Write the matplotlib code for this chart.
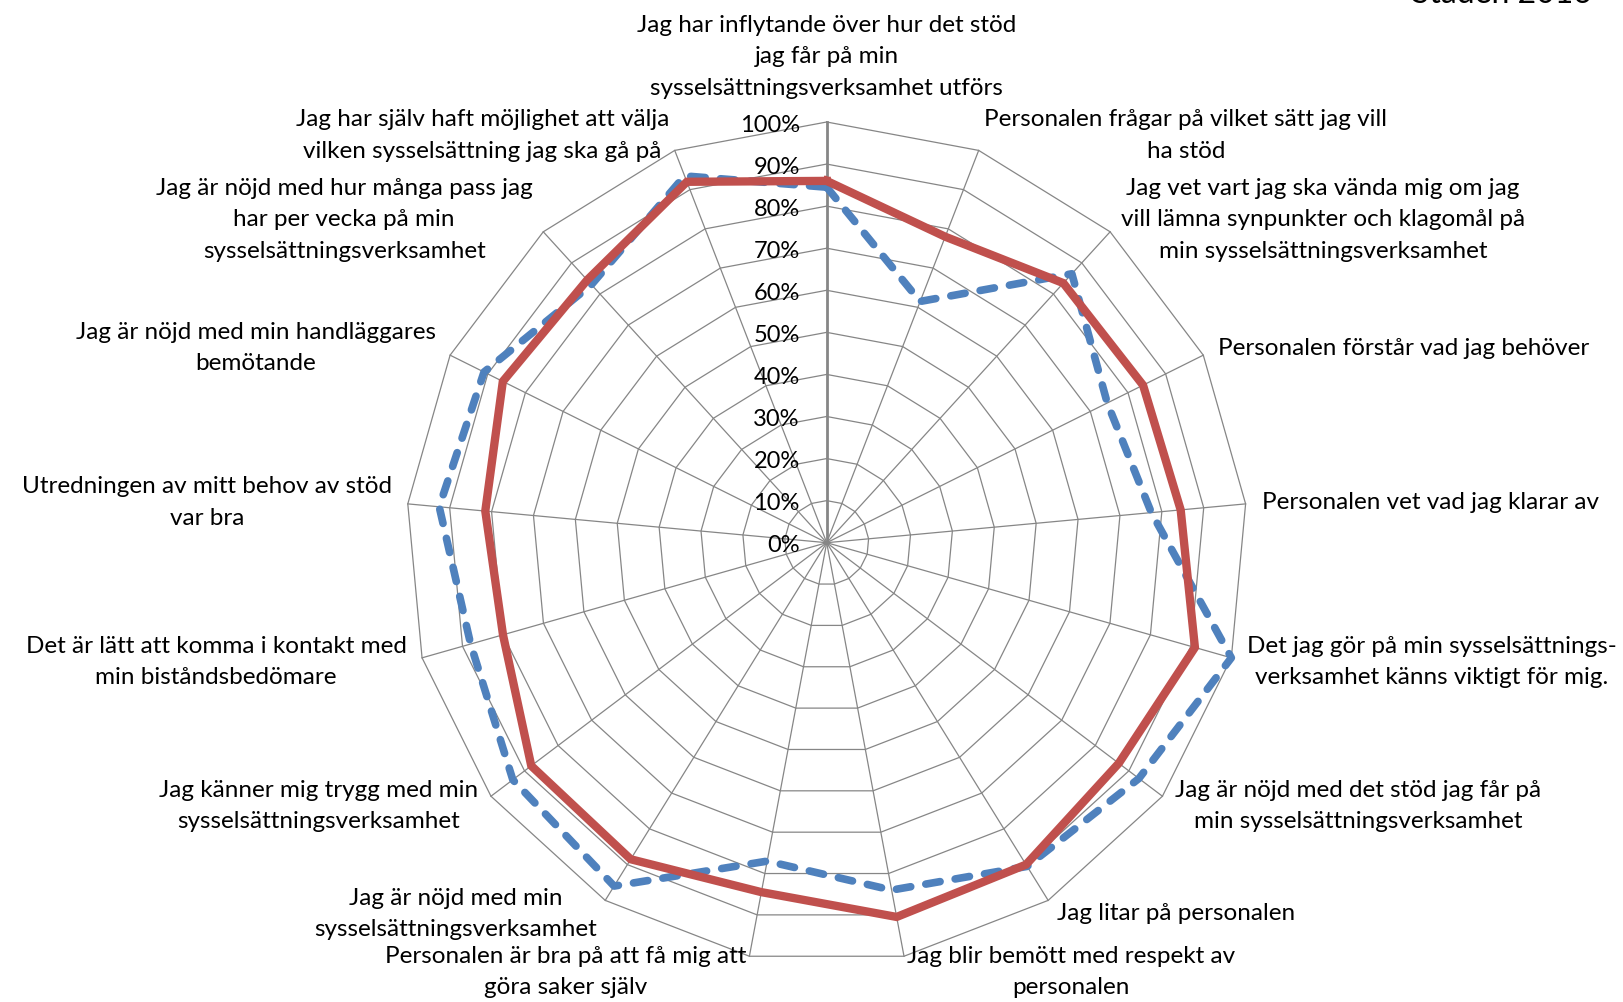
import matplotlib.pyplot as plt
import numpy as np

# --- data (share of positive answers) ---
categories = [
    "Jag har inflytande över hur det stöd\njag får på min\nsysselsättningsverksamhet utförs",
    "Personalen frågar på vilket sätt jag vill\nha stöd",
    "Jag vet vart jag ska vända mig om jag\nvill lämna synpunkter och klagomål på\nmin sysselsättningsverksamhet",
    "Personalen förstår vad jag behöver",
    "Personalen vet vad jag klarar av",
    "Det jag gör på min sysselsättnings-\nverksamhet känns viktigt för mig.",
    "Jag är nöjd med det stöd jag får på\nmin sysselsättningsverksamhet",
    "Jag litar på personalen",
    "Jag blir bemött med respekt av\npersonalen",
    "Personalen är bra på att få mig att\ngöra saker själv",
    "Jag är nöjd med min\nsysselsättningsverksamhet",
    "Jag känner mig trygg med min\nsysselsättningsverksamhet",
    "Det är lätt att komma i kontakt med\nmin biståndsbedömare",
    "Utredningen av mitt behov av stöd\nvar bra",
    "Jag är nöjd med min handläggares\nbemötande",
    "Jag är nöjd med hur många pass jag\nhar per vecka på min\nsysselsättningsverksamhet",
    "Jag har själv haft möjlighet att välja\nvilken sysselsättning jag ska gå på",
]
red_values = [0.86, 0.78, 0.835, 0.84, 0.845, 0.91, 0.87, 0.90, 0.905, 0.845,
              0.885, 0.88, 0.80, 0.815, 0.86, 0.845, 0.92]
blue_values = [0.845, 0.615, 0.865, 0.745, 0.775, 1.00, 0.93, 0.905, 0.84, 0.77,
               0.96, 0.935, 0.88, 0.925, 0.91, 0.83, 0.935]
ring_levels = [0.1, 0.2, 0.3, 0.4, 0.5, 0.6, 0.7, 0.8, 0.9, 1.0]
tick_levels = [0.0] + ring_levels
title_text = "Staden 2016"

plt.rcParams['font.family'] = ['Lato', 'DejaVu Sans']
label_size = 17.5
label_spacing = 1.62

n = len(categories)
theta = np.arange(n) * 2 * np.pi / n
theta_closed = np.append(theta, theta[0])

fig = plt.figure(figsize=(16.24, 10.02), dpi=100)
cx, cy, rad = 826.7 / 1624, 1 - 542.7 / 1002, 420.7
ax = fig.add_axes([cx - rad / 1624, cy - rad / 1002, 2 * rad / 1624, 2 * rad / 1002],
                  projection='polar')
ax.set_theta_zero_location('N')
ax.set_theta_direction(-1)
ax.set_ylim(0, 1)
ax.grid(False)
ax.spines['polar'].set_visible(False)
ax.set_xticks([])
ax.set_yticks([])

grid_col = '#868686'
# polygon rings
for lvl in ring_levels:
    ax.plot(theta_closed, [lvl] * (n + 1), color=grid_col, lw=0.9, clip_on=False, zorder=1)
# spokes (the first one doubles as the value axis)
for i, t in enumerate(theta):
    ax.plot([t, t], [0, 1], color=grid_col, lw=2.0 if i == 0 else 0.9,
            clip_on=False, zorder=1)

# series
ax.plot(theta_closed, np.append(blue_values, blue_values[0]), color='#4F81BD', lw=5.5,
        linestyle=(0, (1.9, 2.0)), dash_capstyle='round', solid_joinstyle='round',
        clip_on=False, zorder=3)
ax.plot(theta_closed, np.append(red_values, red_values[0]), color='#C0504D', lw=6.0,
        solid_joinstyle='miter', clip_on=False, zorder=4)

# value labels along the top spoke
for lvl in tick_levels:
    ax.annotate(f"{int(round(lvl * 100))}%", xy=(0, lvl), xytext=(-27, -3),
                textcoords='offset pixels', ha='right', va='center', fontsize=17,
                annotation_clip=False)

# category labels
for i, (t, lab) in enumerate(zip(theta, categories)):
    s, c = np.sin(t), np.cos(t)
    if i == 0:
        ax.annotate(lab, xy=(t, 1), xytext=(0, 23), textcoords='offset pixels',
                    ha='center', va='bottom', multialignment='center', fontsize=label_size,
                    linespacing=label_spacing, annotation_clip=False)
        continue
    ha = 'left' if s > 0 else 'right'
    pad = 16
    ax.annotate(lab, xy=(t, 1), xytext=(pad * s, pad * c), textcoords='offset pixels',
                ha=ha, va='center', multialignment='center', fontsize=label_size,
                linespacing=label_spacing, annotation_clip=False)

fig.text(1592 / 1624, 0.997, title_text, ha='right', va='baseline', fontsize=23)

fig.savefig('out.png', dpi=100)
